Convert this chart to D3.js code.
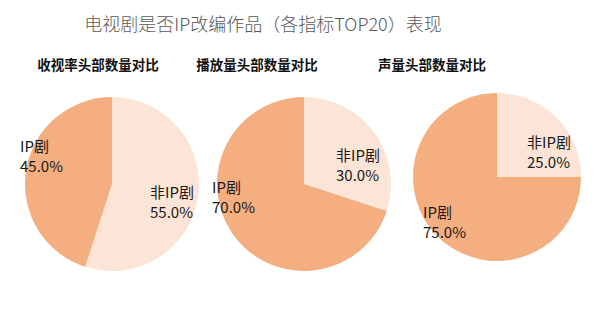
<!DOCTYPE html>
<html><head><meta charset="utf-8">
<script src="https://cdn.jsdelivr.net/npm/d3@7"></script>
<style>body{margin:0;background:#fff}svg{display:block}</style>
</head><body>
<svg id="c" width="600" height="325"></svg>
<script>
const title = "电视剧是否IP改编作品（各指标TOP20）表现";
const chartTitles = ["收视率头部数量对比", "播放量头部数量对比", "声量头部数量对比"];
const categories = ["非IP剧", "IP剧"];
const ratingValues = [55, 45];
const playValues = [30, 70];
const buzzValues = [25, 75];
const colors = ["#FCE4D6", "#F4AE80"];

const svg = d3.select("#c");
const cjk = "'Noto Sans CJK SC', 'Noto Sans', sans-serif";

svg.append("text").attr("x", 263).attr("y", 31).attr("text-anchor", "middle")
  .attr("font-family", cjk).attr("font-size", 18).attr("font-weight", 300)
  .attr("fill", "#595959").text(title);

const panels = [
  {values: ratingValues, cx: 112, cy: 184, r: 87, tx: 98,
   labels: [{x: 150, y: 193}, {x: 20, y: 147}]},
  {values: playValues, cx: 304, cy: 184, r: 87, tx: 257,
   labels: [{x: 336, y: 156}, {x: 212, y: 188}]},
  {values: buzzValues, cx: 497, cy: 177, r: 84, tx: 432,
   labels: [{x: 527, y: 143}, {x: 423, y: 213}]}
];

const pie = d3.pie().sort(null).value(d => d);
const fmt = d3.format(".1f");

panels.forEach((p, i) => {
  svg.append("text").attr("x", p.tx).attr("y", 70).attr("text-anchor", "middle")
    .attr("font-family", cjk).attr("font-size", 13.5).attr("font-weight", 700)
    .attr("fill", "#111").text(chartTitles[i]);
  const g = svg.append("g").attr("transform", `translate(${p.cx},${p.cy})`);
  const arc = d3.arc().innerRadius(0).outerRadius(p.r);
  g.selectAll("path").data(pie(p.values)).join("path")
    .attr("d", arc).attr("fill", (d, j) => colors[j]);
  p.values.forEach((v, j) => {
    const t = svg.append("text").attr("font-family", cjk).attr("font-size", 15)
      .attr("fill", "#1a1a1a");
    t.append("tspan").attr("x", p.labels[j].x).attr("y", p.labels[j].y + 5).text(categories[j]);
    t.append("tspan").attr("x", p.labels[j].x).attr("y", p.labels[j].y + 25).text(fmt(v) + "%");
  });
});
</script>
</body></html>
